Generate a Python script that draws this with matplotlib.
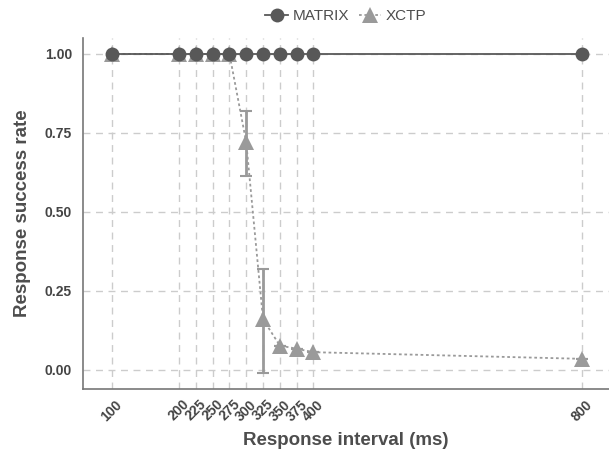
import matplotlib
matplotlib.use("Agg")
import matplotlib.pyplot as plt
import numpy as np

x_vals = [100, 200, 225, 250, 275, 300, 325, 350, 375, 400, 800]
matrix_rate = [1.0, 1.0, 1.0, 1.0, 1.0, 1.0, 1.0, 1.0, 1.0, 1.0, 1.0]
xctp_rate = [1.0, 1.0, 1.0, 1.0, 1.0, 0.72, 0.16, 0.077, 0.067, 0.056, 0.035]
xctp_err_low = [1.0, 1.0, 1.0, 1.0, 1.0, 0.615, -0.01, 0.077, 0.067, 0.056, 0.035]
xctp_err_high = [1.0, 1.0, 1.0, 1.0, 1.0, 0.82, 0.32, 0.077, 0.067, 0.056, 0.035]
y_ticks = [0.0, 0.25, 0.5, 0.75, 1.0]
y_ticklabels = ["0.00", "0.25", "0.50", "0.75", "1.00"]

plt.rcParams['font.family'] = ['Liberation Sans', 'DejaVu Sans']

fig = plt.figure(figsize=(6.09, 4.54), dpi=100)
ax = fig.add_axes([83/609, 65/454, 526/609, 351/454])

c_matrix = "#585858"
c_xctp = "#9a9a9a"

# grid
for xv in x_vals:
    ax.axvline(xv, color="#cccccc", lw=1.0, ls=(0, (5, 4)), zorder=0)
for yv in y_ticks:
    ax.axhline(yv, color="#cccccc", lw=1.0, ls=(0, (5, 4)), zorder=0)

x = np.array(x_vals)
lo = np.array(xctp_rate) - np.array(xctp_err_low)
hi = np.array(xctp_err_high) - np.array(xctp_rate)
ax.errorbar(x, xctp_rate, yerr=[lo, hi], fmt='none', ecolor=c_xctp, elinewidth=2.0,
            capsize=4, capthick=1.5, zorder=2)
ax.plot(x, xctp_rate, color=c_xctp, ls=(0, (1.5, 1.5)), lw=1.3, marker='^', markersize=11,
        markeredgewidth=0, label="XCTP", zorder=3)
ax.plot(x, matrix_rate, color=c_matrix, ls='-', lw=1.3, marker='o', markersize=10,
        markeredgewidth=0, label="MATRIX", zorder=4)

ax.set_xlim(57, 840)
ax.set_ylim(-0.0605, 1.0505)
ax.set_xticks(x_vals)
ax.set_xticklabels([str(v) for v in x_vals], rotation=45, ha='center', fontsize=10,
                   fontweight='bold', color="#444444")
ax.set_yticks(y_ticks)
ax.set_yticklabels(y_ticklabels, fontsize=10, fontweight='bold', color="#444444")
ax.tick_params(axis='both', length=0)
ax.tick_params(axis='y', pad=8)
ax.tick_params(axis='x', pad=6)

for s in ['top', 'right']:
    ax.spines[s].set_visible(False)
for s in ['left', 'bottom']:
    ax.spines[s].set_color("#777777")
    ax.spines[s].set_linewidth(1.2)

ax.set_xlabel("Response interval (ms)", fontsize=13.5, fontweight='bold', color="#4d4d4d", labelpad=6)
ax.set_ylabel("Response success rate", fontsize=13.5, fontweight='bold', color="#4d4d4d", labelpad=10)

handles, labels = ax.get_legend_handles_labels()
order = [1, 0]
leg = fig.legend([handles[i] for i in order], [labels[i] for i in order],
                 loc='upper center', bbox_to_anchor=(346/609, 1.0), ncol=2, frameon=False,
                 fontsize=11, handlelength=1.5, columnspacing=0.6, handletextpad=0.3,
                 borderaxespad=0.2)
for t in leg.get_texts():
    t.set_color("#4d4d4d")

fig.savefig("out.png", dpi=100)
